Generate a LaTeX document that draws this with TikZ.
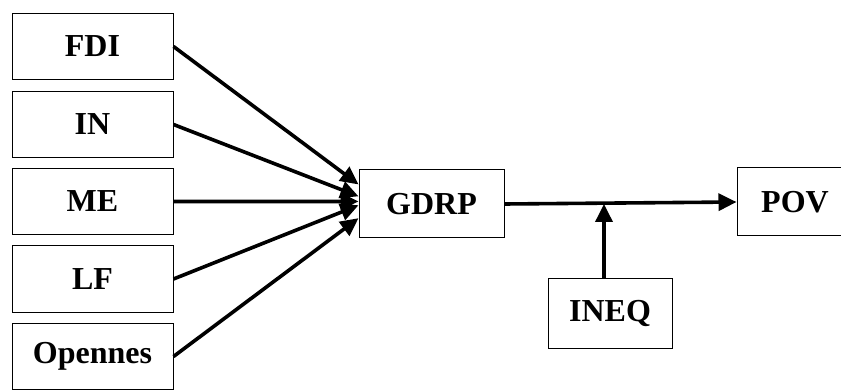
\documentclass[tikz,border=0pt]{standalone}
\usepackage{fontspec}
\setmainfont{Liberation Serif}
\usetikzlibrary{arrows.meta}
\tikzset{
  varbox/.style={draw, line width=1pt, inner sep=0pt, minimum height=66pt,
    font=\fontsize{32}{38}\selectfont\bfseries},
  link/.style={line width=3.6pt, -{Triangle[length=18pt,width=17pt]}}
}
\begin{document}
\begin{tikzpicture}[x=1pt,y=-1pt]
			\useasboundingbox (0,0) rectangle (841,390);
			% Draw input boxes
			\node[varbox, minimum width=161pt] (fdi) at (92.5,46.5) {FDI};
			\node[varbox, minimum width=161pt] (in) at (92.5,124.5) {IN};
			\node[varbox, minimum width=161pt] (me) at (92.5,201.5) {ME};
			\node[varbox, minimum width=161pt] (lf) at (92.5,279) {LF};
			\node[varbox, minimum width=161pt] (open) at (92.5,356.5) {Opennes};

			% Draw central and output boxes
			\node[varbox, minimum width=145pt, minimum height=68pt] (gdrp) at (431.5,204) {GDRP};
			\node[varbox, minimum width=116pt, minimum height=68pt] (pov) at (795,202) {POV};
			\node[varbox, minimum width=124pt, minimum height=69pt] (ineq) at (610,313.5) {INEQ};

			% Draw arrows into GDRP
			\draw[link] (fdi.east) -- (gdrp.165);
			\draw[link] (in.east) -- (gdrp.174);
			\draw[link] (me.east) -- (gdrp.178);
			\draw[link] (lf.east) -- (gdrp.181);
			\draw[link] (open.east) -- (gdrp.191);

			% Draw arrow to POV and the inequality link
			\draw[link] (gdrp.east) -- (pov.west);
			\coordinate (meet) at ([xshift=-6pt]ineq.north |- gdrp.east);
			\draw[link] ([xshift=-6pt]ineq.north) -- (meet);
		\end{tikzpicture}
\end{document}
